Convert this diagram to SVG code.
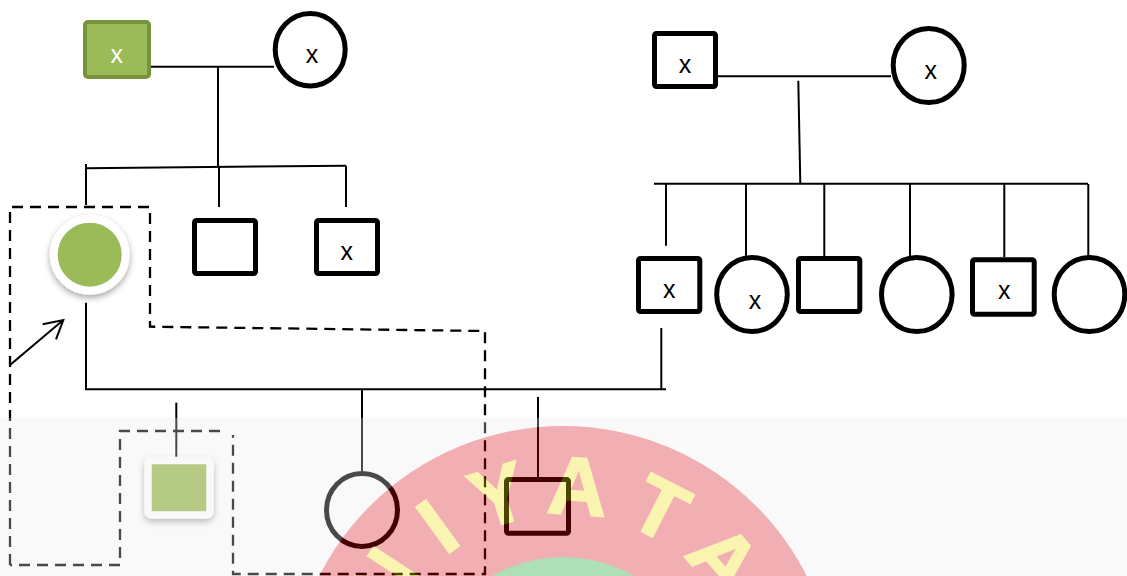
<svg xmlns="http://www.w3.org/2000/svg" width="1127" height="576" viewBox="0 0 1127 576">
  <defs>
    <style>
      .ln { fill: none; stroke: #000; stroke-width: 2; }
      .dash { fill: none; stroke: #000; stroke-width: 2.3; stroke-dasharray: 11 7; }
      .sq { fill: #fff; stroke: #000; stroke-width: 5; }
      .ci { fill: #fff; stroke: #000; stroke-width: 5; }
      .lbl { font-family: "Liberation Sans", Arial, sans-serif; font-size: 25px; text-anchor: middle; fill: #000; }
      .wm { font-family: "Liberation Sans", Arial, sans-serif; font-weight: bold; font-size: 82px; text-anchor: middle; fill: #eede00; stroke: #eede00; stroke-width: 2; }
    </style>
    <filter id="sh" x="-30%" y="-30%" width="160%" height="170%">
      <feDropShadow dx="0" dy="3" stdDeviation="3" flood-color="#000" flood-opacity="0.35"/>
    </filter>
  </defs>

  <rect x="0" y="0" width="1127" height="576" fill="#fff"/>

  <!-- connectors -->
  <g id="connectors">
    <path class="ln" d="M148 66.7 H274"/>
    <path class="ln" d="M218 66.7 V167"/>
    <path class="ln" d="M86 168.3 L346 165.7"/>
    <path class="ln" d="M86 164 V205 M219 167 V207 M346 165.7 V207"/>
    <path class="ln" d="M86 302.7 V389.3 H666"/>
    <path class="ln" d="M661.3 328 V389.3"/>
    <path class="ln" d="M362 389.3 V471"/>
    <path class="ln" d="M176.3 402.7 V466"/>
    <path class="ln" d="M538 397 V477"/>
    <path class="ln" d="M718 76.3 H891"/>
    <path class="ln" d="M798.3 80.7 L800.3 184"/>
    <path class="ln" d="M654 183.7 H1088"/>
    <path class="ln" d="M666 184 V245.7 M746 184 V255.7 M824.3 184 V256 M910 184 V256 M1004.3 184 V257 M1088.3 184 V255.7"/>
    <!-- proband arrow -->
    <path class="ln" stroke-width="2.3" d="M10 365 L63.3 320 M42.7 324.3 L63.3 320 L56 339.3"/>
    <!-- dashed outlines -->
    <path class="dash" d="M10 565 V207 H150 V326.7 L485 331 V574 H233 V435"/>
    <path class="dash" d="M220 431 H120 V565 H10"/>
  </g>

  <!-- generation I, left couple -->
  <g id="n-gf1">
    <rect x="85" y="22" width="64" height="55" rx="3" fill="#9bbb59" stroke="#77933c" stroke-width="4"/>
    <text class="lbl" x="116.7" y="63.3" style="fill:#fff">x</text>
  </g>
  <g id="n-gm1">
    <ellipse class="ci" cx="310.2" cy="49.7" rx="35" ry="36.2"/>
    <text class="lbl" x="312" y="63.3">x</text>
  </g>

  <!-- generation I, right couple -->
  <g id="n-gf2">
    <rect class="sq" x="654.5" y="33.5" width="61" height="53" rx="2"/>
    <text class="lbl" x="685" y="72.7">x</text>
  </g>
  <g id="n-gm2">
    <ellipse class="ci" cx="928.7" cy="65.5" rx="35.5" ry="37"/>
    <text class="lbl" x="930.7" y="79">x</text>
  </g>

  <!-- generation II, left sibship -->
  <g id="n-proband">
    <circle cx="89.7" cy="254.7" r="36" fill="#9bbb59" stroke="#fff" stroke-width="8" filter="url(#sh)"/>
  </g>
  <g id="n-sib1">
    <rect class="sq" x="194.5" y="220.5" width="61" height="53" rx="2"/>
  </g>
  <g id="n-sib2">
    <rect class="sq" x="316.5" y="220.5" width="61" height="53" rx="2"/>
    <text class="lbl" x="346.7" y="260">x</text>
  </g>

  <!-- generation II, right sibship -->
  <g id="n-husband">
    <rect class="sq" x="638.5" y="258.5" width="61.3" height="53" rx="2"/>
    <text class="lbl" x="669.3" y="298.3">x</text>
  </g>
  <g id="n-rsib1">
    <ellipse class="ci" cx="752" cy="294.5" rx="35.3" ry="37"/>
    <text class="lbl" x="755" y="309.3">x</text>
  </g>
  <g id="n-rsib2">
    <rect class="sq" x="798.5" y="258.5" width="61.3" height="53" rx="2"/>
  </g>
  <g id="n-rsib3">
    <ellipse class="ci" cx="916.8" cy="294.5" rx="35.3" ry="37"/>
  </g>
  <g id="n-rsib4">
    <rect class="sq" x="972.5" y="259.8" width="61.7" height="54.4" rx="2"/>
    <text class="lbl" x="1004.3" y="299.3">x</text>
  </g>
  <g id="n-rsib5">
    <ellipse class="ci" cx="1089.5" cy="294.5" rx="35.3" ry="37"/>
  </g>

  <!-- generation III -->
  <g id="n-child1">
    <rect x="148" y="460.5" width="62" height="54.5" rx="4" fill="#9bbb59" stroke="#fff" stroke-width="7.5" filter="url(#sh)"/>
  </g>
  <g id="n-child2">
    <ellipse class="ci" cx="362" cy="510" rx="35.5" ry="36.5"/>
  </g>
  <g id="n-child3">
    <rect class="sq" x="506.5" y="479.5" width="62" height="53.7" rx="2"/>
  </g>

  <!-- translucent emblem band over the lower part -->
  <g id="emblem" opacity="0.31">
    <rect x="0" y="418" width="1127" height="158" fill="#ececec"/>
    <circle cx="563" cy="699" r="273" fill="#d8000c"/>
    <g>
      <text class="wm" x="563" y="514" transform="rotate(-57 563 699)">N</text>
      <text class="wm" x="563" y="514" transform="rotate(-36 563 699)">I</text>
      <text class="wm" x="563" y="514" transform="rotate(-17.5 563 699)">Y</text>
      <text class="wm" x="563" y="514" transform="rotate(4 563 699)">A</text>
      <text class="wm" x="563" y="514" transform="rotate(27 563 699)">T</text>
      <text class="wm" x="563" y="514" transform="rotate(49 563 699)">A</text>
    </g>
    <circle cx="563" cy="699" r="142" fill="#009b16"/>
  </g>
</svg>
